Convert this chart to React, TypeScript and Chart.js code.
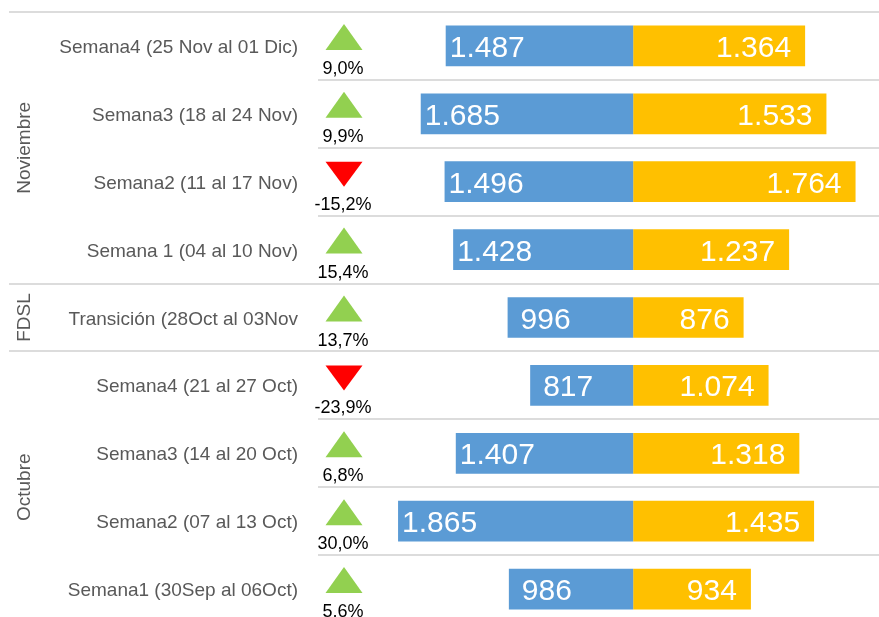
import { useEffect, useRef } from 'react';
import { Chart, registerables } from 'chart.js';

Chart.register(...registerables);

const categories = [
  'Semana4 (25 Nov al 01 Dic)',
  'Semana3 (18 al 24 Nov)',
  'Semana2 (11 al 17 Nov)',
  'Semana 1 (04 al 10 Nov)',
  'Transición (28Oct al 03Nov',
  'Semana4 (21 al 27 Oct)',
  'Semana3 (14 al 20 Oct)',
  'Semana2 (07 al 13 Oct)',
  'Semana1 (30Sep al 06Oct)',
];
const currentValues = [1487, 1685, 1496, 1428, 996, 817, 1407, 1865, 986];
const previousValues = [1364, 1533, 1764, 1237, 876, 1074, 1318, 1435, 934];
const changePct = [9.0, 9.9, -15.2, 15.4, 13.7, -23.9, 6.8, 30.0, 5.6];
const groupNames = ['Noviembre', 'FDSL', 'Octubre'];
const groupSizes = [4, 1, 4];

const FONT = "'Liberation Sans', Arial, sans-serif";
const GRID = '#DCDCDC';
const BLUE = '#5B9BD5';
const YELLOW = '#FFC000';
const GREEN = '#92D050';
const RED = '#FF0000';
const GRAY_TEXT = '#595959';

const fmt = (v: number) => String(v).replace(/\B(?=(\d{3})+(?!\d))/g, '.');
const fmtPct = (v: number) => v.toFixed(1).replace('.', ',') + '%';

const overlay = {
  id: 'overlay',
  afterDatasetsDraw(chart: any) {
    const ctx = chart.ctx;
    const area = chart.chartArea;
    const yScale = chart.scales.y;
    const rowH = (area.bottom - area.top) / categories.length;
    ctx.save();

    // group separators extended to the left
    ctx.strokeStyle = GRID;
    ctx.lineWidth = 2;
    const bounds = [0];
    let acc = 0;
    groupSizes.forEach((s) => {
      acc += s;
      bounds.push(acc);
    });
    bounds.forEach((b) => {
      const py = Math.round(area.top + b * rowH);
      ctx.beginPath();
      ctx.moveTo(9, py);
      ctx.lineTo(area.left, py);
      ctx.stroke();
    });

    // group labels (rotated)
    ctx.fillStyle = GRAY_TEXT;
    ctx.font = `19px ${FONT}`;
    ctx.textAlign = 'center';
    ctx.textBaseline = 'middle';
    groupNames.forEach((name, gi) => {
      const cy = area.top + ((bounds[gi] + bounds[gi + 1]) / 2) * rowH;
      ctx.save();
      ctx.translate(25, cy);
      ctx.rotate(-Math.PI / 2);
      ctx.fillText(name, 0, 0);
      ctx.restore();
    });

    // category labels
    ctx.textAlign = 'right';
    ctx.textBaseline = 'alphabetic';
    categories.forEach((c, i) => {
      const cy = yScale.getPixelForValue(i);
      ctx.fillText(c, area.left - 20, cy + 7);
    });

    // triangles and percentages
    const tx = 344;
    const halfW = 18.5;
    changePct.forEach((p, i) => {
      const cy = yScale.getPixelForValue(i);
      ctx.beginPath();
      if (p >= 0) {
        ctx.fillStyle = GREEN;
        ctx.moveTo(tx, cy - 22);
        ctx.lineTo(tx + halfW, cy + 4);
        ctx.lineTo(tx - halfW, cy + 4);
      } else {
        ctx.fillStyle = RED;
        ctx.moveTo(tx - halfW, cy - 20);
        ctx.lineTo(tx + halfW, cy - 20);
        ctx.lineTo(tx, cy + 5);
      }
      ctx.closePath();
      ctx.fill();
      ctx.fillStyle = '#000000';
      ctx.font = `18px ${FONT}`;
      ctx.textAlign = 'center';
      ctx.textBaseline = 'alphabetic';
      ctx.fillText(fmtPct(p), tx - 1, cy + 28);
    });

    // bar value labels
    ctx.fillStyle = '#FFFFFF';
    ctx.font = `30px ${FONT}`;
    ctx.textBaseline = 'alphabetic';
    const blueMeta = chart.getDatasetMeta(0);
    const yellowMeta = chart.getDatasetMeta(1);
    blueMeta.data.forEach((el: any, i: number) => {
      const label = fmt(currentValues[i]);
      const pad = label.length <= 3 ? 13 : 4;
      ctx.textAlign = 'left';
      ctx.fillText(label, Math.min(el.x, el.base) + pad, el.y + 11);
    });
    yellowMeta.data.forEach((el: any, i: number) => {
      const label = fmt(previousValues[i]);
      ctx.textAlign = 'right';
      ctx.fillText(label, Math.max(el.x, el.base) - 14, el.y + 11);
    });

    ctx.restore();
  },
};

export default function App() {
  const canvasRef = useRef<HTMLCanvasElement | null>(null);

  useEffect(() => {
    if (!canvasRef.current) return;
    const chart = new Chart(canvasRef.current, {
      type: 'bar',
      data: {
        labels: categories,
        datasets: [
          {
            label: 'Actual',
            data: currentValues.map((v) => -v),
            backgroundColor: BLUE,
            borderWidth: 0,
            barPercentage: 0.6,
            categoryPercentage: 1,
          },
          {
            label: 'Anterior',
            data: previousValues,
            backgroundColor: YELLOW,
            borderWidth: 0,
            barPercentage: 0.6,
            categoryPercentage: 1,
          },
        ],
      },
      options: {
        indexAxis: 'y',
        responsive: false,
        animation: false,
        layout: { padding: { top: 12, bottom: 4, left: 0, right: 0 } },
        plugins: {
          legend: { display: false },
          tooltip: { enabled: false },
        },
        scales: {
          x: {
            stacked: true,
            min: -2500,
            max: 1950,
            ticks: { display: false, stepSize: 500 },
            border: { display: false },
            grid: {
              drawTicks: false,
              lineWidth: 1,
              color: (c: any) => (c.tick && c.tick.value === 0 ? '#D9D9D9' : 'rgba(0,0,0,0)'),
            },
            afterFit: (s: any) => {
              s.height = 0;
            },
          },
          y: {
            stacked: true,
            ticks: { display: false },
            border: { display: false },
            grid: {
              color: GRID,
              lineWidth: 2,
              drawTicks: false,
            },
            afterFit: (s: any) => {
              s.width = 318;
            },
          },
        },
      },
      plugins: [overlay],
    });
    return () => chart.destroy();
  }, []);

  return (
    <div
      style={{
        position: 'absolute',
        left: 0,
        top: 0,
        width: 879,
        height: 617,
        overflow: 'hidden',
        background: '#FFFFFF',
      }}
    >
      <canvas ref={canvasRef} width={879} height={627} style={{ display: 'block' }} />
    </div>
  );
}
